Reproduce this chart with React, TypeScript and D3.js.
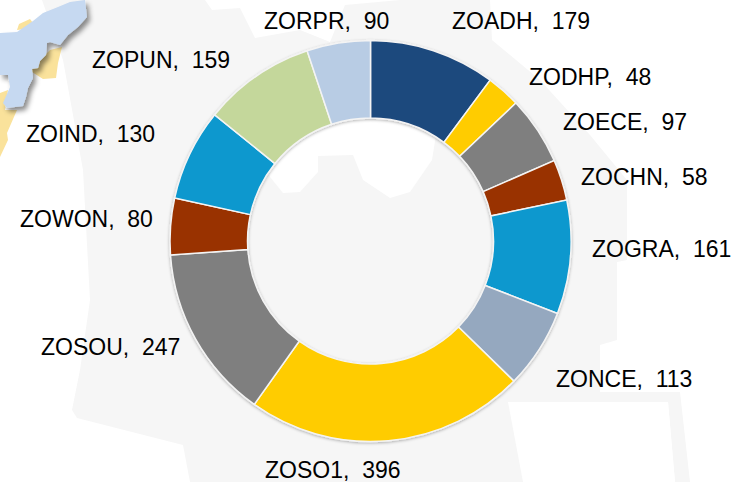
import React from "react";
import * as d3 from "d3";

const categories = ["ZOADH","ZODHP","ZOECE","ZOCHN","ZOGRA","ZONCE","ZOSO1","ZOSOU","ZOWON","ZOIND","ZOPUN","ZORPR"];
const values = [179,48,97,58,161,113,396,247,80,130,159,90];
const colors = ["#1f497d","#ffcc00","#7f7f7f","#993300","#0998ce","#95a8bf","#ffcc00","#7f7f7f","#993300","#0998ce","#c4d79b","#b8cce4"];
const labelAnchors: [number, number][] = [[452,29],[529,85],[563,130],[581,185],[592,257],[556,387],[265,478],[41,355],[20,227],[26,142],[92,68],[264,29]];

const grayLand = "M42,0 L205,0 L212,10 L240,8 L255,38 L300,30 L330,42 L345,5 L400,0 L490,0 L492,40 L540,80 L590,135 L627,180 L627,260 L617,262 L617,340 L600,345 L600,392 L680,392 L690,482 L675,482 L668,402 L515,402 L523,482 L508,482 L503,400 L533,390 L558,345 L560,482 L190,482 L183,445 L77,418 L72,410 L80,370 L90,300 L83,170 L63,60 Z";
const whiteHoles = "M508,402 L668,402 L675,482 L523,482 Z";
const whitePatch = "M262,150 L270,177 L283,193 L300,192 L318,172 L318,156 L353,155 L363,180 L390,198 L410,192 L432,160 L440,110 L300,110 Z";
const yellowLand1 = "M17,30 L19,24 L30,19 L33,23 L25,29 Z";
const yellowLand2 = "M50,50 L62,47 L58,63 L56,78 L43,79 L32,72 L32,68 L38,68 L40,60 Z";
const yellowLand3 = "M0,93 L8,90 L5,110 L17,110 L7,133 L8,140 L0,157 Z";
const blueLand = "M0,33 L17,32 L33,21 L43,13 L58,7 L70,2 L85,0 L87,17 L78,27 L68,35 L60,45 L50,42 L47,43 L46,55 L40,61 L38,68 L32,69 L33,78 L28,88 L26,97 L23,106 L7,108 L3,103 L10,87 L8,75 L0,75 Z";

export default function App() {
  const pie = d3.pie<number>().sort(null)(values);
  const arc = d3.arc<d3.PieArcDatum<number>>().innerRadius(123).outerRadius(200.5);
  return (
    <svg width={731} height={482} style={{ position: "absolute", left: 0, top: 0, background: "#fff" }}>
      <defs>
        <filter id="sh" x="-20%" y="-20%" width="150%" height="150%">
          <feDropShadow dx="3" dy="4" stdDeviation="2.5" floodColor="#000" floodOpacity="0.45" />
        </filter>
        <filter id="sh2" x="-10%" y="-10%" width="120%" height="120%">
          <feDropShadow dx="0" dy="1" stdDeviation="1.5" floodColor="#000" floodOpacity="0.3" />
        </filter>
      </defs>
      <path d={grayLand} fill="#f6f6f6" />
      <path d={whiteHoles} fill="#fff" />
      <path d={whitePatch} fill="#fff" />
      <path d={yellowLand1} fill="#fae29b" />
      <path d={yellowLand2} fill="#fae29b" />
      <path d={yellowLand3} fill="#fae29b" />
      <path d={blueLand} fill="#c6d9f1" filter="url(#sh)" />
      <g transform="translate(370.5,241)" filter="url(#sh2)">
        {pie.map((d, i) => (
          <path key={categories[i]} d={arc(d) ?? ""} fill={colors[i]} stroke="#f4f4f4" strokeWidth={1.5} />
        ))}
      </g>
      {categories.map((c, i) => (
        <text key={c} x={labelAnchors[i][0]} y={labelAnchors[i][1]} fontFamily="Liberation Sans, Arial, sans-serif" fontSize={23} fill="#000" xmlSpace="preserve">
          {c + ",  " + values[i]}
        </text>
      ))}
    </svg>
  );
}
